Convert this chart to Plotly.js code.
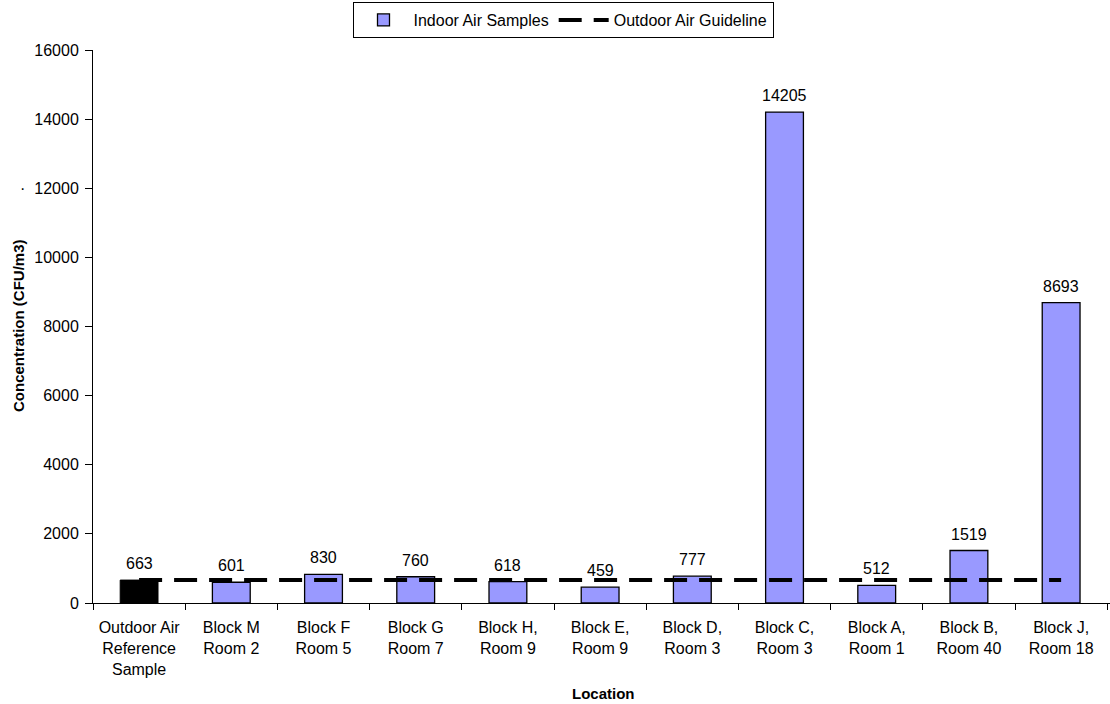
<!DOCTYPE html>
<html>
<head>
<meta charset="utf-8">
<script src="https://cdn.plot.ly/plotly-3.0.1.min.js"></script>
<style>html,body{margin:0;padding:0;background:#fff;}#chart{width:1110px;height:704px;}</style>
</head>
<body>
<div id="chart"></div>
<script>
const categories = [
  "Outdoor Air<br>Reference<br>Sample",
  "Block M<br>Room 2",
  "Block F<br>Room 5",
  "Block G<br>Room 7",
  "Block H,<br>Room 9",
  "Block E,<br>Room 9",
  "Block D,<br>Room 3",
  "Block C,<br>Room 3",
  "Block A,<br>Room 1",
  "Block B,<br>Room 40",
  "Block J,<br>Room 18"
];
const outdoorCategory = [categories[0]];
const outdoorValues = [663];
const indoorCategories = categories.slice(1);
const indoorValues = [601, 830, 760, 618, 459, 777, 14205, 512, 1519, 8693];
const guidelineValue = 663;
const yTicks = [0, 2000, 4000, 6000, 8000, 10000, 12000, 14000, 16000];

const FONT = "Liberation Sans, Arial, sans-serif";
const TOP = 50, BOTTOM_PX = 603, LEFT = 93, H = 704, W = 1110;
const plotH = BOTTOM_PX - TOP, plotW = W - LEFT;

const traces = [
  {
    type: "bar",
    name: "Outdoor Air Reference",
    x: outdoorCategory,
    y: outdoorValues,
    marker: {color: "#000000", line: {color: "#000", width: 1}},
    width: 0.41,
    showlegend: false
  },
  {
    type: "bar",
    name: "Indoor Air Samples",
    x: indoorCategories,
    y: indoorValues,
    marker: {color: "#9999ff", line: {color: "#000", width: 1.3}},
    width: 0.41
  },
  {
    type: "scatter",
    mode: "lines",
    name: "Outdoor Air Guideline",
    x: categories,
    y: categories.map(() => guidelineValue),
    line: {color: "#000", width: 4, dash: "23px,12px"},
    hoverinfo: "skip"
  }
];

const valueLabels = outdoorCategory.concat(indoorCategories).map((c, i) => {
  const v = outdoorValues.concat(indoorValues)[i];
  return {
    text: String(v), x: c, y: v, xref: "x", yref: "y",
    showarrow: false, xanchor: "center", yanchor: "bottom", yshift: 6,
    font: {family: FONT, size: 16, color: "#000"}
  };
});

const layout = {
  width: W,
  height: H,
  margin: {l: LEFT, r: 0, t: TOP, b: H - BOTTOM_PX, autoexpand: false},
  paper_bgcolor: "#fff",
  plot_bgcolor: "#fff",
  barmode: "overlay",
  font: {family: FONT, size: 16, color: "#000"},
  showlegend: true,
  legend: {
    orientation: "h",
    x: (563 - LEFT) / plotW, xanchor: "center",
    y: (BOTTOM_PX - 20) / plotH, yanchor: "middle",
    xref: "paper", yref: "paper",
    bordercolor: "#000", borderwidth: 1,
    bgcolor: "#fff",
    font: {family: FONT, size: 16, color: "#000"},
    traceorder: "normal",
    tracegroupgap: 0,
    itemwidth: 50
  },
  xaxis: {
    type: "category",
    categoryorder: "array",
    categoryarray: categories,
    range: [-0.5, 10.53],
    automargin: false,
    showline: true, linecolor: "#000", linewidth: 1,
    ticks: "outside", tickson: "boundaries", ticklen: 6, tickcolor: "#000",
    ticklabelstandoff: 10,
    tickfont: {family: FONT, size: 16, color: "#000"},
    showgrid: false, zeroline: false
  },
  yaxis: {
    range: [0, 16000],
    tickvals: yTicks,
    ticktext: yTicks.map(String),
    automargin: false,
    showline: true, linecolor: "#000", linewidth: 1,
    ticks: "outside", ticklen: 7, tickcolor: "#000",
    ticklabelstandoff: 3,
    tickfont: {family: FONT, size: 16, color: "#000"},
    showgrid: false, zeroline: false
  },
  annotations: valueLabels.concat([
    {text: "Concentration (CFU/m3)", xref: "paper", yref: "paper", x: (18 - LEFT) / plotW, y: (BOTTOM_PX - 326) / plotH,
     textangle: -90, showarrow: false, xanchor: "center", yanchor: "middle",
     font: {family: FONT, size: 15, color: "#000", weight: "bold"}},
    {text: "Location", xref: "paper", yref: "paper", x: (603 - LEFT) / plotW, y: (BOTTOM_PX - 693) / plotH,
     showarrow: false, xanchor: "center", yanchor: "middle",
     font: {family: FONT, size: 15, color: "#000", weight: "bold"}},
    {text: "·", xref: "paper", yref: "paper", x: (22 - LEFT) / plotW, y: (BOTTOM_PX - 188) / plotH, showarrow: false,
     font: {family: FONT, size: 16, color: "#000"}, xanchor: "center", yanchor: "middle"}
  ])
};

Plotly.newPlot("chart", traces, layout, {displayModeBar: false, staticPlot: true});
</script>
</body>
</html>
